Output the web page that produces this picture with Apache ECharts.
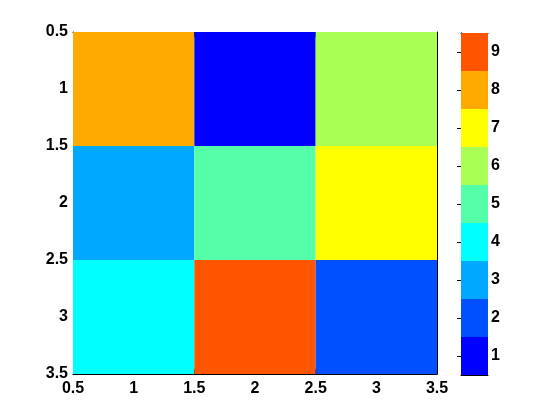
<!DOCTYPE html>
<html><head><meta charset="utf-8">
<script src="https://cdn.jsdelivr.net/npm/echarts@6/dist/echarts.min.js"></script>
<style>html,body{margin:0;padding:0;background:#fff}#c{width:560px;height:420px}</style>
</head><body><div id="c"></div>
<script>
// magic(3) matrix, rows top to bottom
const rowIdx = [1, 2, 3];
const colIdx = [1, 2, 3];
const matrix = [
  [8, 1, 6],
  [3, 5, 7],
  [4, 9, 2]
];
const colorbarLevels = ['1','2','3','4','5','6','7','8','9'];
const colormap = ['#0000ff','#0050ff','#00a8ff','#00ffff','#55ffaa','#aaff55','#ffff00','#ffaa00','#ff5500'];

const cells = [];
matrix.forEach((row, r) => row.forEach((v, c) => cells.push([colIdx[c], rowIdx[r], v])));

const font = {fontFamily: 'Liberation Sans, Arial, sans-serif', fontSize: 16, fontWeight: 'bold', color: '#000'};
const axLine = {show: true, lineStyle: {color: '#000', width: 1}};
const tick = {show: true, inside: true, length: 5, lineStyle: {color: '#000'}};

const chart = echarts.init(document.getElementById('c'), null, {renderer: 'canvas'});
chart.setOption({
  animation: false,
  backgroundColor: '#fff',
  grid: [
    {left: 73, top: 32, width: 364, height: 342},
    {left: 461, top: 33, width: 27, height: 342}
  ],
  xAxis: [
    {type: 'value', gridIndex: 0, min: 0.5, max: 3.5, interval: 0.5, position: 'bottom',
     axisLine: axLine, axisTick: tick, splitLine: {show: false},
     axisLabel: Object.assign({margin: 7}, font)},
    {type: 'value', gridIndex: 0, min: 0.5, max: 3.5, interval: 0.5, position: 'top',
     axisLine: axLine, axisTick: tick, splitLine: {show: false}, axisLabel: {show: false}},
    {type: 'value', gridIndex: 1, min: 0, max: 1, show: true,
     axisLine: axLine, axisTick: {show: false}, axisLabel: {show: false}, splitLine: {show: false}, position: 'bottom'},
    {type: 'value', gridIndex: 1, min: 0, max: 1, show: true,
     axisLine: axLine, axisTick: {show: false}, axisLabel: {show: false}, splitLine: {show: false}, position: 'top'}
  ],
  yAxis: [
    {type: 'value', gridIndex: 0, min: 0.5, max: 3.5, interval: 0.5, inverse: true, position: 'left',
     axisLine: axLine, axisTick: tick, splitLine: {show: false},
     axisLabel: Object.assign({margin: 5}, font)},
    {type: 'value', gridIndex: 0, min: 0.5, max: 3.5, interval: 0.5, inverse: true, position: 'right',
     axisLine: axLine, axisTick: tick, splitLine: {show: false}, axisLabel: {show: false}},
    {type: 'category', gridIndex: 1, data: colorbarLevels, position: 'right',
     axisLine: axLine, axisTick: {show: true, inside: true, length: 4, alignWithLabel: true, lineStyle: {color: '#000'}},
     axisLabel: Object.assign({margin: 3}, font), splitLine: {show: false}},
    {type: 'category', gridIndex: 1, data: colorbarLevels, position: 'left',
     axisLine: axLine, axisTick: {show: true, inside: true, length: 4, alignWithLabel: true, lineStyle: {color: '#000'}},
     axisLabel: {show: false}, splitLine: {show: false}}
  ],
  series: [
    {
      type: 'custom', xAxisIndex: 0, yAxisIndex: 0, z: 1,
      data: cells,
      renderItem: function (params, api) {
        const x = api.value(0), y = api.value(1), v = api.value(2);
        const p0 = api.coord([x - 0.5, y - 0.5]);
        const p1 = api.coord([x + 0.5, y + 0.5]);
        return {type: 'rect',
          shape: {x: Math.min(p0[0], p1[0]), y: Math.min(p0[1], p1[1]),
                  width: Math.abs(p1[0] - p0[0]), height: Math.abs(p1[1] - p0[1])},
          style: {fill: colormap[v - 1]}};
      }
    },
    {
      type: 'bar', xAxisIndex: 2, yAxisIndex: 2, barCategoryGap: '0%', z: 1,
      data: colorbarLevels.map((l, i) => ({value: 1, itemStyle: {color: colormap[i]}}))
    }
  ]
});
</script></body></html>
